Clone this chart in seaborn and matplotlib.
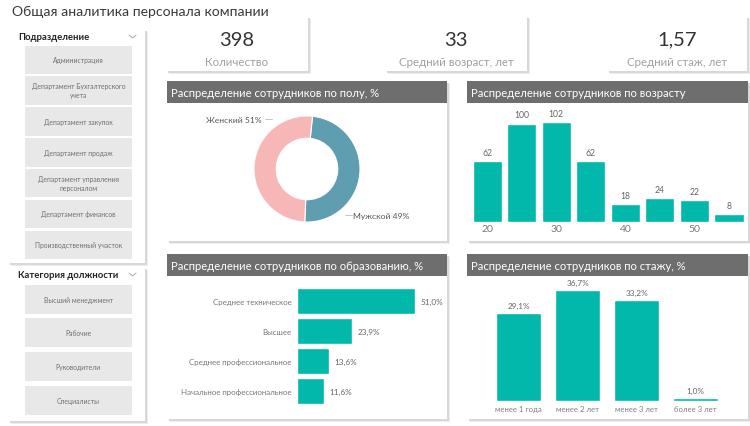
import matplotlib

matplotlib.use("Agg")
import matplotlib.pyplot as plt
import pandas as pd
import seaborn as sns
from matplotlib.patches import Rectangle

sns.set_theme(style="white")
plt.rcParams["font.family"] = ["Lato", "DejaVu Sans"]

# ---- data ----
title = "Общая аналитика персонала компании"

kpi_values = ["398", "33", "1,57"]
kpi_labels = ["Количество", "Средний возраст, лет", "Средний стаж, лет"]

departments = ["Администрация", "Департамент Бухгалтерского\nучета", "Департамент закупок",
               "Департамент продаж", "Департамент управления\nперсоналом",
               "Департамент финансов", "Производственный участок"]
positions = ["Высший менеджмент", "Рабочие", "Руководители", "Специалисты"]

gender_names = ["Мужской", "Женский"]
gender_pct = [49, 51]

age_bins = [20, 25, 30, 35, 40, 45, 50, 55]
age_counts = [62, 100, 102, 62, 18, 24, 22, 8]

edu_levels = ["Среднее техническое", "Высшее", "Среднее профессиональное",
              "Начальное профессиональное"]
edu_pct = [51.0, 23.9, 13.6, 11.6]

tenure_groups = ["менее 1 года", "менее 2 лет", "менее 3 лет", "более 3 лет"]
tenure_pct = [29.1, 36.7, 33.2, 1.0]

TEAL = "#01b8aa"
HEADER = "#6e6e6e"
W, H = 750, 427


def rect(x0, y0, x1, y1):
    return [x0 / W, 1 - y1 / H, (x1 - x0) / W, (y1 - y0) / H]


def ru(v):
    return f"{v:.1f}%".replace(".", ",")


fig = plt.figure(figsize=(W / 100, H / 100), dpi=100)
fig.patch.set_facecolor("white")

bg = fig.add_axes([0, 0, 1, 1])
bg.set_xlim(0, W)
bg.set_ylim(H, 0)
bg.axis("off")


def card(x0, y0, x1, y1):
    bg.add_patch(Rectangle((x0 + 3, y0 + 3), x1 - x0, y1 - y0, color="#ededed", lw=0))
    bg.add_patch(Rectangle((x0 + 1.5, y0 + 1.5), x1 - x0, y1 - y0, color="#d8d8d8", lw=0))
    bg.add_patch(Rectangle((x0, y0), x1 - x0, y1 - y0, color="white", lw=0))


def panel(x0, y0, x1, y1, text):
    card(x0, y0, x1, y1)
    bg.add_patch(Rectangle((x0, y0), x1 - x0, 22, color=HEADER, lw=0))
    bg.text(x0 + 4, y0 + 11.5, text, color="white", fontsize=8.1, va="center", ha="left")


bg.text(12, 12, title, fontsize=10.1, color="#3a3a3a", va="center", ha="left")

# slicers
def slicer(y0, y1, head, items, tops):
    card(8, y0, 145, y1)
    bg.text(18, y0 + 8, head, fontsize=6.8, fontweight="bold", color="#222", va="center")
    bg.plot([129, 132.5, 136], [y0 + 6, y0 + 9, y0 + 6], color="#aaa", lw=0.7)
    for item, t in zip(items, tops):
        bg.add_patch(Rectangle((25, t), 107, 28.5, color="#e8e8e8", lw=0))
        bg.text(78.5, t + 14.2, item, fontsize=4.9, color="#707070", ha="center", va="center",
                linespacing=1.3)


slicer(30, 264, "Подразделение", departments, [46.5, 77, 108, 139, 169.5, 200.5, 231.5])
slicer(268, 422, "Категория должности", positions, [286, 319, 353, 387])

# KPI cards
for (x0, x1), val, lab in zip([(166, 308), (385, 527), (607, 747)], kpi_values, kpi_labels):
    card(x0, 17, x1, 72)
    bg.text((x0 + x1) / 2, 40, val, fontsize=14.5, color="#333", ha="center", va="center")
    bg.text((x0 + x1) / 2, 62, lab, fontsize=8.3, color="#a0a0a0", ha="center", va="center")

panel(167, 82, 447, 242, "Распределение сотрудников по полу, %")
panel(467, 82, 748, 242, "Распределение сотрудников по возрасту")
panel(167, 255, 447, 420, "Распределение сотрудников по образованию, %")
panel(467, 255, 748, 420, "Распределение сотрудников по стажу, %")

# ---- gender donut ----
ax = fig.add_axes(rect(237, 100, 377, 240))
wedges, _ = ax.pie(gender_pct, colors=["#5f9db1", "#f6b7b6"], startangle=84,
                   counterclock=False, radius=1,
                   wedgeprops=dict(width=0.42, edgecolor="white", linewidth=0.8))
ax.set_xlim(-1.32, 1.32)
ax.set_ylim(-1.32, 1.32)
ax.set_aspect("equal")
ax.axis("off")
ax.text(-0.86, 0.94, f"{gender_names[1]} {gender_pct[1]}%", fontsize=6.1, color="#555",
        ha="right", va="center")
ax.plot([-0.79, -0.66], [0.94, 0.94], color="#bbb", lw=0.6)
ax.text(0.87, -0.87, f"{gender_names[0]} {gender_pct[0]}%", fontsize=6.1, color="#555",
        ha="left", va="center")
ax.plot([0.72, 0.84], [-0.87, -0.87], color="#bbb", lw=0.6)

# ---- age histogram ----
age_df = pd.DataFrame({"age": age_bins, "count": age_counts})
ax = fig.add_axes(rect(470, 107, 746, 222.7))
sns.barplot(data=age_df, x="age", y="count", color=TEAL, saturation=1, width=0.84,
            native_scale=True, ax=ax)
ax.set_xlim(17.51, 57.46)
ax.set_ylim(0, 118)
ax.set_xticks([20, 30, 40, 50])
ax.set_yticks([])
ax.set_xlabel("")
ax.set_ylabel("")
sns.despine(ax=ax, left=True, bottom=True)
ax.tick_params(axis="x", length=0, labelsize=7.5, labelcolor="#777", pad=2)
ax.bar_label(ax.containers[0], fontsize=6.2, color="#666", padding=3)
ax.patch.set_alpha(0)

# ---- education ----
edu_df = pd.DataFrame({"level": edu_levels, "pct": edu_pct})
ax = fig.add_axes(rect(297.3, 287, 440, 407))
sns.barplot(data=edu_df, y="level", x="pct", color=TEAL, saturation=1, width=0.87,
            orient="h", ax=ax)
ax.set_xlim(0, 61.8)
ax.set_ylim(3.5, -0.5)
ax.set_xticks([])
ax.set_xlabel("")
ax.set_ylabel("")
sns.despine(ax=ax, left=True, bottom=True)
ax.tick_params(axis="y", length=0, labelsize=5.7, labelcolor="#777", pad=4)
ax.bar_label(ax.containers[0], labels=[ru(v) for v in edu_pct], fontsize=5.9,
             color="#666", padding=4)
ax.patch.set_alpha(0)

# ---- tenure ----
ten_df = pd.DataFrame({"group": tenure_groups, "pct": tenure_pct})
ax = fig.add_axes(rect(489, 283, 725, 401.7))
sns.barplot(data=ten_df, x="group", y="pct", color=TEAL, saturation=1, width=0.76, ax=ax)
ax.set_xlim(-0.5, 3.5)
ax.set_ylim(0, 39.3)
ax.set_yticks([])
ax.set_xlabel("")
ax.set_ylabel("")
sns.despine(ax=ax, left=True, bottom=True)
ax.tick_params(axis="x", length=0, labelsize=5.6, labelcolor="#8a7a8a", pad=3)
ax.bar_label(ax.containers[0], labels=[ru(v) for v in tenure_pct], fontsize=5.9,
             color="#666", padding=3)
ax.patch.set_alpha(0)

fig.savefig("out.png", dpi=100, facecolor="white")
